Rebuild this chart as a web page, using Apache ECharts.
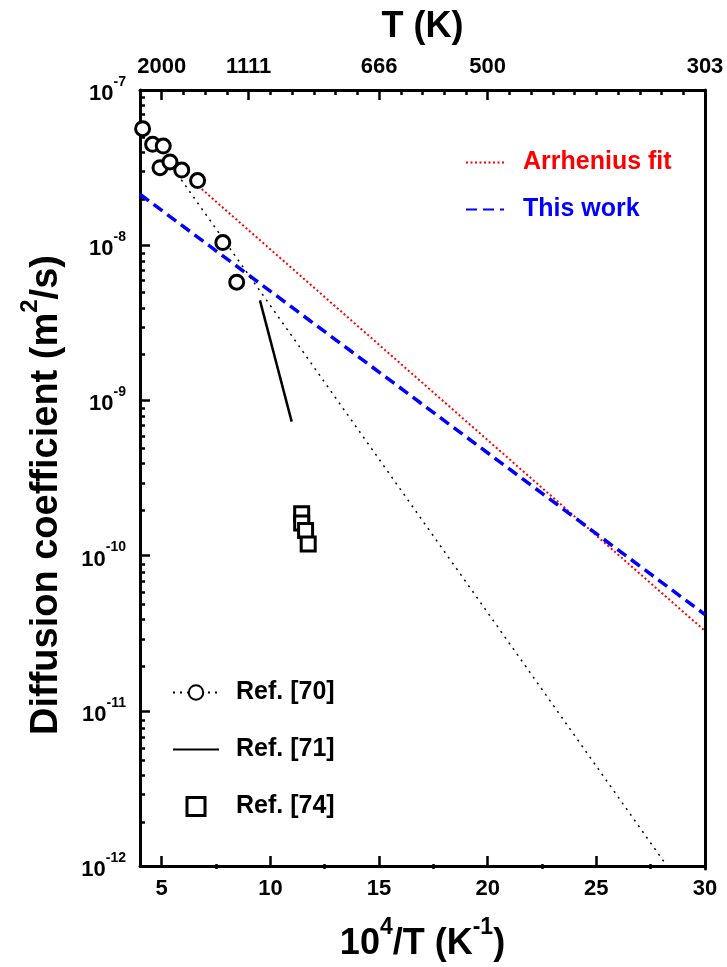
<!DOCTYPE html>
<html><head><meta charset="utf-8">
<script src="https://cdn.jsdelivr.net/npm/echarts@6/dist/echarts.min.js"></script>
<style>html,body{margin:0;padding:0;background:#fff}#chart{width:727px;height:967px}</style>
</head><body><div id="chart"></div>
<script>
const FONT = '"Liberation Sans", Arial, Helvetica, sans-serif';

// Ref. [70] measured points: x = 10^4/T (K^-1), D (m^2/s)
const ref70X = [4.12, 4.58, 5.07, 4.92, 5.38, 5.92, 6.65, 7.81, 8.45];
const ref70D = [5.63e-8, 4.47e-8, 4.35e-8, 3.16e-8, 3.44e-8, 3.05e-8, 2.61e-8, 1.04e-8, 5.78e-9];
// Ref. [70] fit (dotted)
const ref70FitX = [5.9, 28.25];
const ref70FitD = [2.64e-8, 1.0e-12];
// Ref. [71] (solid)
const ref71X = [9.52, 10.98];
const ref71D = [4.41e-9, 7.30e-10];
// Ref. [74] (squares)
const ref74X = [11.44, 11.44, 11.62, 11.74];
const ref74D = [1.86e-10, 1.62e-10, 1.45e-10, 1.19e-10];
// Arrhenius fit (red dotted)
const arrX = [6.84, 30];
const arrD = [2.30e-8, 3.27e-11];
// This work (blue dashed)
const thisX = [4, 30];
const thisD = [2.13e-8, 4.17e-11];

// Tick positions / labels
const bottomTicks = [5, 10, 15, 20, 25, 30];
const bottomMinorTicks = [7.5, 12.5, 17.5, 22.5, 27.5];
const topTicks = [5, 9, 15, 20, 30];
const topTickLabels = ['2000', '1111', '666', '500', '303'];
const topMinorTicks = [6, 7, 8, 10, 11, 12, 13, 14, 16, 17, 18, 19, 21, 22, 23, 24, 25, 26, 27, 28, 29];
const decades = [-12, -11, -10, -9, -8];
const minorMultipliers = [2, 3, 4, 5, 6, 7, 8, 9];

const leftMinorTicks = [];
decades.forEach(d => minorMultipliers.forEach(k => leftMinorTicks.push(d + Math.log10(k))));

const zip = (xs, ys) => xs.map((x, i) => [x, ys[i]]);

const bold = {fontFamily: FONT, fontWeight: 'bold', color: '#000'};
const axisLine = {show: true, onZero: false, lineStyle: {color: '#000', width: 3}};
const majorTick = (vals, len) => ({show: true, inside: true, length: len, customValues: vals, lineStyle: {color: '#000', width: 2.5}});
const minorTick = (vals) => ({show: true, inside: true, length: 5, customValues: vals, lineStyle: {color: '#000', width: 2.5}});

const titleRich = {
  a: Object.assign({}, bold, {fontSize: 36, lineHeight: 46, verticalAlign: 'bottom'}),
  s: Object.assign({}, bold, {fontSize: 23, lineHeight: 23, verticalAlign: 'top'})
};

const option = {
  animation: false,
  backgroundColor: '#fff',
  textStyle: {fontFamily: FONT},
  grid: [
    {left: 140, right: 22, top: 90, bottom: 98},
    {left: 140, right: 22, top: 90, bottom: 98}
  ],
  xAxis: [
    {
      type: 'value', gridIndex: 0, position: 'bottom', min: 4, max: 30,
      axisLine: axisLine, axisTick: majorTick(bottomTicks, 10),
      axisLabel: Object.assign({customValues: bottomTicks, margin: 12, fontSize: 22}, bold),
      splitLine: {show: false},
      name: '{a|10}{s|4}{a|/T (K}{s|-1}{a|)}', nameLocation: 'middle', nameGap: 50,
      nameTextStyle: {rich: titleRich}
    },
    {
      type: 'value', gridIndex: 0, position: 'top', min: 4, max: 30,
      axisLine: axisLine, axisTick: majorTick(topTicks, 10),
      axisLabel: Object.assign({
        customValues: topTicks, margin: 12, fontSize: 22,
        formatter: v => { const i = topTicks.findIndex(t => Math.abs(t - v) < 1e-6); return i >= 0 ? topTickLabels[i] : ''; }
      }, bold),
      splitLine: {show: false},
      name: '{a|T (K)}', nameLocation: 'middle', nameGap: 45,
      nameTextStyle: {rich: titleRich}
    },
    {
      type: 'value', gridIndex: 1, position: 'bottom', min: 4, max: 30,
      axisLine: {show: false}, axisTick: minorTick(bottomMinorTicks),
      axisLabel: {show: false}, splitLine: {show: false}
    },
    {
      type: 'value', gridIndex: 1, position: 'top', min: 4, max: 30,
      axisLine: {show: false}, axisTick: minorTick(topMinorTicks),
      axisLabel: {show: false}, splitLine: {show: false}
    }
  ],
  yAxis: [
    {
      type: 'log', logBase: 10, gridIndex: 0, position: 'left', min: 1e-12, max: 1e-7,
      axisLine: axisLine,
      axisTick: {show: true, inside: true, length: 10, lineStyle: {color: '#000', width: 2.5}},
      axisLabel: {
        margin: 14,
        formatter: v => '{a|10}{s|' + Math.round(Math.log10(v)) + '}',
        rich: {
          a: Object.assign({}, bold, {fontSize: 22, lineHeight: 30, verticalAlign: 'bottom'}),
          s: Object.assign({}, bold, {fontSize: 14, lineHeight: 14, verticalAlign: 'top'})
        }
      },
      splitLine: {show: false}
    },
    {
      type: 'value', gridIndex: 1, position: 'left', min: -12, max: -7,
      axisLine: {show: false}, axisTick: minorTick(leftMinorTicks),
      axisLabel: {show: false}, splitLine: {show: false}
    },
    {
      type: 'value', gridIndex: 1, position: 'right', min: -12, max: -7,
      axisLine: axisLine, axisTick: {show: false},
      axisLabel: {show: false}, splitLine: {show: false}
    }
  ],
  legend: [
    {
      orient: 'vertical', left: 465, top: 150, padding: 0,
      itemWidth: 38, itemHeight: 14, itemGap: 22, selectedMode: false,
      data: [
        {name: 'Arrhenius fit', textStyle: {color: '#ff0000'}},
        {name: 'This work', textStyle: {color: '#0000ff'}}
      ],
      textStyle: {fontFamily: FONT, fontWeight: 'bold', fontSize: 25, padding: [0, 0, 0, 14]}
    },
    {
      orient: 'vertical', left: 172, top: 680, padding: 0, symbolKeepAspect: true,
      itemWidth: 46, itemHeight: 18, itemGap: 32, selectedMode: false,
      data: [
        'Ref. [70]',
        'Ref. [71]',
        {name: 'Ref. [74]', icon: 'path://M0 0H10V10H0Z', itemStyle: {color: '#fff', borderColor: '#000', borderWidth: 3}}
      ],
      textStyle: {fontFamily: FONT, fontWeight: 'bold', fontSize: 25, color: '#000', padding: [0, 0, 0, 12]}
    }
  ],
  graphic: [
    {
      type: 'text', x: 42, y: 495, rotation: Math.PI / 2, silent: true,
      style: {
        text: '{a|Diffusion coefficient (m}{s|2}{a|/s)}',
        rich: {
          a: Object.assign({}, bold, {fontSize: 38, lineHeight: 48, verticalAlign: 'bottom'}),
          s: Object.assign({}, bold, {fontSize: 24, lineHeight: 24, verticalAlign: 'top'})
        },
        align: 'center', verticalAlign: 'middle'
      }
    }
  ],
  series: [
    {
      name: 'Arrhenius fit', type: 'line', xAxisIndex: 0, yAxisIndex: 0,
      data: zip(arrX, arrD), symbol: 'none',
      lineStyle: {color: '#ff0000', width: 2, type: [2, 2.5]},
      itemStyle: {color: '#ff0000', opacity: 0}, z: 3
    },
    {
      name: 'This work', type: 'line', xAxisIndex: 0, yAxisIndex: 0,
      data: zip(thisX, thisD), symbol: 'none',
      lineStyle: {color: '#0000ff', width: 3.5, type: [11, 6]},
      itemStyle: {color: '#0000ff', opacity: 0}, z: 3
    },
    {
      name: 'Ref. [70]', type: 'line', xAxisIndex: 0, yAxisIndex: 0,
      data: zip(ref70FitX, ref70FitD), symbol: 'emptyCircle', showSymbol: false, symbolSize: 14,
      lineStyle: {color: '#000', width: 1.5, type: [2, 5]},
      itemStyle: {color: '#000'}, z: 3
    },
    {
      name: 'Ref. [71]', type: 'line', xAxisIndex: 0, yAxisIndex: 0,
      data: zip(ref71X, ref71D), symbol: 'none',
      lineStyle: {color: '#000', width: 2.5},
      itemStyle: {color: '#000', opacity: 0}, z: 3
    },
    {
      name: 'Ref. [74]', type: 'scatter', xAxisIndex: 0, yAxisIndex: 0,
      data: zip(ref74X, ref74D), symbol: 'rect', symbolSize: 14,
      itemStyle: {color: '#fff', borderColor: '#000', borderWidth: 3, opacity: 1}, z: 5
    },
    {
      name: 'Ref. [70]', type: 'scatter', xAxisIndex: 0, yAxisIndex: 0,
      data: zip(ref70X, ref70D), symbol: 'circle', symbolSize: 14,
      itemStyle: {color: '#fff', borderColor: '#000', borderWidth: 3, opacity: 1}, z: 5
    }
  ]
};

const chart = echarts.init(document.getElementById('chart'), null, {renderer: 'canvas'});
chart.setOption(option);
</script>
</body></html>
